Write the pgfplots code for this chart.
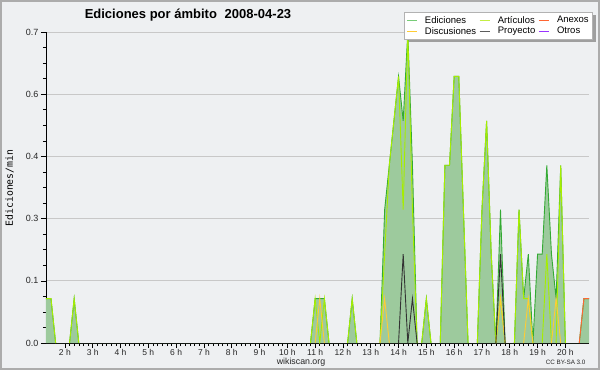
\documentclass[border=0pt]{standalone}
\usepackage{fontspec}
\setmainfont{Liberation Sans}
\newfontfamily\monofont{DejaVu Sans Mono}
\usepackage{pgfplots}
\usepackage{pgfplotstable}
\pgfplotsset{compat=1.18}
\definecolor{bgc}{HTML}{EEF0F2}
\definecolor{fillg}{HTML}{9DCA9D}
\definecolor{edg}{HTML}{33AA33}
\definecolor{edgl}{HTML}{77CC77}
\definecolor{art}{HTML}{A6EE00}
\definecolor{artl}{HTML}{C4EE44}
\definecolor{anx}{HTML}{FF6633}
\definecolor{dis}{HTML}{FFCC33}
\definecolor{pro}{HTML}{333333}
\definecolor{otr}{HTML}{9933FF}
\definecolor{gridc}{HTML}{C8C8C8}

% total edits/min (fill)
\pgfplotstableread{
x y
1.32 0.1
1.5 0.1
1.667 0
2.167 0
2.333 0.1
2.5 0
10.833 0
11.0 0.1
11.167 0.1
11.333 0.1
11.5 0
12.167 0
12.333 0.1
12.5 0
13.333 0
13.5 0.3
13.667 0.4
13.833 0.5
14.0 0.6
14.167 0.5
14.333 0.7
14.5 0.4
14.667 0
14.833 0
15.0 0.1
15.167 0
15.5 0
15.667 0.4
15.833 0.4
16.0 0.6
16.167 0.6
16.333 0.3
16.5 0
16.833 0
17.0 0.3
17.167 0.5
17.333 0.2
17.5 0
17.667 0.3
17.833 0
18.167 0
18.333 0.3
18.5 0.1
18.667 0.2
18.833 0
19.0 0.2
19.167 0.2
19.333 0.4
19.5 0.2
19.667 0.1
19.833 0.4
20.0 0
20.5 0
20.667 0.1
20.85 0.1
}\tot

% total edits/min (line, with gaps)
\pgfplotstableread{
x y
1.32 0.1
1.5 0.1
1.667 0
2 nan
2.167 0
2.333 0.1
2.5 0
6 nan
10.833 0
11.0 0.1
11.167 0.1
11.333 0.1
11.5 0
12 nan
12.167 0
12.333 0.1
12.5 0
13 nan
13.333 0
13.5 0.3
13.667 0.4
13.833 0.5
14.0 0.6
14.167 0.5
14.333 0.7
14.5 0.4
14.667 0
14.75 nan
14.833 0
15.0 0.1
15.167 0
15.3 nan
15.5 0
15.667 0.4
15.833 0.4
16.0 0.6
16.167 0.6
16.333 0.3
16.5 0
16.7 nan
16.833 0
17.0 0.3
17.167 0.5
17.333 0.2
17.5 0
17.667 0.3
17.833 0
18 nan
18.167 0
18.333 0.3
18.5 0.1
18.667 0.2
18.833 0
19.0 0.2
19.167 0.2
19.333 0.4
19.5 0.2
19.667 0.1
19.833 0.4
20.0 0
20.3 nan
20.5 0
20.667 0.1
20.85 0.1
}\totl

% Articulos
\pgfplotstableread{
x y
1.32 0.1
1.5 0.1
1.667 0
2 nan
2.167 0
2.333 0.1
2.5 0
6 nan
10.833 0
11.0 0.1
11.167 0
11.333 0.1
11.5 0
12 nan
12.167 0
12.333 0.1
12.5 0
13 nan
13.333 0
13.5 0.2
13.667 0.4
13.833 0.5
14.0 0.6
14.167 0.3
14.333 0.7
14.5 0.3
14.667 0
14.75 nan
14.833 0
15.0 0.1
15.167 0
15.3 nan
15.5 0
15.667 0.4
15.833 0.4
16.0 0.6
16.167 0.6
16.333 0.3
16.5 0
16.7 nan
16.833 0
17.0 0.3
17.167 0.5
17.333 0.2
17.5 0
17.667 0.1
17.833 0
18 nan
18.167 0
18.333 0.3
18.5 0.1
18.667 0.1
18.833 0
19.0 nan
19.167 0
19.333 0.2
19.5 0
19.6 nan
19.667 0
19.833 0.4
20.0 0
}\art

% Discusiones
\pgfplotstableread{
x y
11.0 0
11.167 0.1
11.333 0
12 nan
13.333 0
13.5 0.1
13.667 0
15 nan
17.5 0
17.667 0.1
17.833 0
18 nan
18.5 0
18.667 0.1
18.833 0
19 nan
19.5 0
19.667 0.1
19.833 0
}\dis

% Proyecto
\pgfplotstableread{
x y
14.0 0
14.167 0.2
14.333 0
14.5 0.1
14.667 0
15 nan
17.5 0
17.667 0.2
17.833 0
}\pro

% Anexos
\pgfplotstableread{
x y
20.5 0
20.667 0.1
20.85 0.1
}\anx

\begin{document}
\begin{tikzpicture}[x=1pt,y=1pt]
\useasboundingbox (0,0) rectangle (600,370);
\fill[bgc] (0,0) rectangle (600,370);
\draw[gray!65, line width=2pt] (1,1) rectangle (599,369);
% legend shadow
\fill[gray!75] (407,327.7) rectangle (596,354.7);
\begin{axis}[
  at={(46pt,27pt)}, anchor=south west,
  scale only axis, width=543pt, height=311pt,
  xmin=1.32, xmax=20.85, ymin=0, ymax=0.7,
  axis x line*=bottom, axis y line*=left,
  axis line style={black, line width=0.8pt},
  xtick={2,3,...,20},
  xticklabels={2 h,3 h,4 h,5 h,6 h,7 h,8 h,9 h,10 h,11 h,12 h,13 h,14 h,15 h,16 h,17 h,18 h,19 h,20 h},
  ytick={0,0.14,0.28,0.42,0.56,0.7},
  yticklabels={0.0,0.1,0.3,0.4,0.6,0.7},
  minor x tick num=5, minor y tick num=3,
  tick align=outside, major tick length=5pt, minor tick length=3pt,
  tick style={black, line width=0.6pt},
  ymajorgrids, grid style={gridc, line width=0.8pt},
  xticklabel style={font=\fontsize{8.5}{9}\selectfont, text=black!85, yshift=2pt},
  yticklabel style={font=\fontsize{9}{10}\selectfont, text=black!85, xshift=1pt},
  /pgf/number format/assume math mode=true,
  unbounded coords=jump,
  legend columns=3,
  legend cell align=left,
  legend image code/.code={\draw[line width=1.2pt,#1] (0pt,0pt) -- (10pt,0pt);},
  legend style={at={(1.0074,1.0633)}, anchor=north east, fill=white,
    draw=gray!60, line width=0.6pt,
    font=\fontsize{9.5}{10}\selectfont,
    inner xsep=2pt, inner ysep=1.5pt, row sep=-1.5pt,
    /tikz/every odd column/.append style={column sep=5.5pt},
    /tikz/every even column/.append style={column sep=1pt}},
]
\addlegendimage{draw=edgl}\addlegendentry{Ediciones}
\addlegendimage{draw=artl}\addlegendentry{Artículos}
\addlegendimage{draw=anx}\addlegendentry{Anexos}
\addlegendimage{draw=dis}\addlegendentry{Discusiones}
\addlegendimage{draw=pro!80}\addlegendentry{Proyecto}
\addlegendimage{draw=otr}\addlegendentry{Otros}

\addplot[fill=fillg, draw=none, forget plot] table {\tot} \closedcycle;
\addplot[edg, line width=0.9pt, forget plot] table {\totl};
\addplot[art, line width=0.9pt, forget plot] table {\art};
\addplot[dis, line width=0.9pt, forget plot] table {\dis};
\addplot[anx, line width=0.9pt, forget plot] table {\anx};
\addplot[pro, line width=0.9pt, forget plot] table {\pro};
\end{axis}
\node[anchor=base, font=\bfseries\fontsize{13}{14}\selectfont] at (188,351.7) {Ediciones por ámbito\hspace{0.6em}2008-04-23};
\node[rotate=90, font=\monofont\fontsize{9.8}{10}\selectfont] at (9.5,182) {Ediciones/min};
\node[anchor=base, font=\fontsize{8.8}{9}\selectfont, text=black!85] at (301,5.5) {wikiscan.org};
\node[anchor=base east, font=\fontsize{6.3}{7}\selectfont, text=black!85] at (589,5.7) {CC BY-SA 3.0};
\end{tikzpicture}
\end{document}
